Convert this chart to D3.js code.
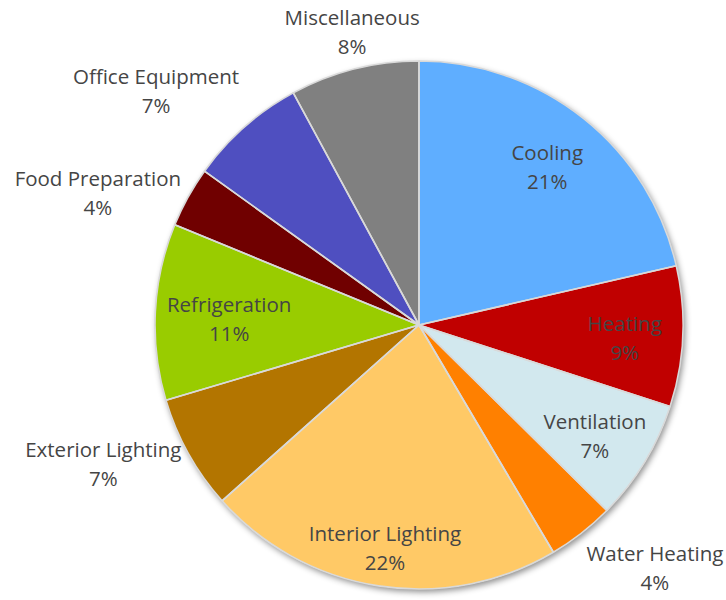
<!DOCTYPE html>
<html lang="en">
<head>
  <meta charset="UTF-8">
  <title>Energy use pie</title>
  <script src="https://d3js.org/d3.v7.min.js"></script>
  <style>
    body { margin: 0; background: #fff; }
    .lbl { font-family: "Open Sans", "Noto Sans", sans-serif; font-size: 20.5px; fill: #454545; }
  </style>
</head>
<body>
<div class="main"></div>
<script>
  let width = 726;
  let height = 600;

  let categories = ["Cooling", "Heating", "Ventilation", "Water Heating", "Interior Lighting",
    "Exterior Lighting", "Refrigeration", "Food Preparation", "Office Equipment", "Miscellaneous"];
  // shares in % (labels show them rounded)
  let values = [21.4, 8.6, 7.4, 4.1, 21.9, 7.0, 10.8, 3.7, 7.2, 7.9];
  let colors = ["#5EAEFF", "#C00000", "#D2E8EE", "#FF8000", "#FFC966",
    "#B37400", "#99CC00", "#700000", "#4F50C0", "#808080"];
  // labels Excel put outside the pie
  let outside = ["Water Heating", "Exterior Lighting", "Food Preparation", "Office Equipment", "Miscellaneous"];

  let cx = 419, cy = 325, radius = 264;

  let pieData = categories.map((c, i) => ({ name: c, value: values[i], color: colors[i] }));

  let pie = d3.pie().sort(null).value(d => d.value);
  let arc = d3.arc().innerRadius(0).outerRadius(radius);

  let svg = d3.select(".main")
          .append("svg")
          .attr("width", width)
          .attr("height", height)
          .style("display", "block");

  let defs = svg.append("defs");
  let f = defs.append("filter").attr("id", "shadow")
          .attr("x", "-10%").attr("y", "-10%").attr("width", "120%").attr("height", "120%");
  f.append("feDropShadow").attr("dx", 2).attr("dy", 3).attr("stdDeviation", 3)
          .attr("flood-color", "#000").attr("flood-opacity", 0.45);

  let g = svg.append("g").attr("transform", `translate(${cx},${cy})`);

  let arcs = pie(pieData);

  g.append("g").attr("filter", "url(#shadow)")
          .selectAll("path")
          .data(arcs)
          .join("path")
          .attr("d", arc)
          .attr("fill", d => d.data.color);

  g.append("g")
          .selectAll("path")
          .data(arcs)
          .join("path")
          .attr("d", arc)
          .attr("fill", "none")
          .attr("stroke", "#D9D9D9")
          .attr("stroke-width", 1.6)
          .attr("stroke-linejoin", "round");

  let lineH = 29;

  function clampDead(v, dead, full) {
    let a = Math.abs(v);
    if (a < dead) return 0;
    return Math.sign(v) * Math.min(1, (a - dead) / (full - dead));
  }

  // how far in the inside labels sit (fraction of radius)
  function insideR(name) {
    if (name === "Interior Lighting") return 0.84;
    if (name === "Refrigeration") return 0.72;
    return 0.78;
  }

  arcs.forEach(d => {
    let mid = (d.startAngle + d.endAngle) / 2;
    let s = Math.sin(mid), c = -Math.cos(mid);
    let isOut = outside.includes(d.data.name);
    let t = g.append("text").attr("class", "lbl").attr("text-anchor", "middle");
    let t1 = t.append("tspan").text(d.data.name);
    let t2 = t.append("tspan").text(Math.round(d.value) + "%");
    let w = Math.max(t1.node().getComputedTextLength(), t2.node().getComputedTextLength());
    let h = lineH * 2;
    let x, y;
    if (!isOut) {
      let r = radius * insideR(d.data.name);
      x = r * s;
      y = r * c + 4;
    } else {
      let r = radius + 8;
      let ax = r * s, ay = r * c;
      x = ax + (w / 2) * clampDead(s, 0.3, 0.6);
      y = ay + (h / 2) * (c > 0 ? clampDead(c, 0.4, 0.75) : clampDead(c, 0.55, 0.75));
    }
    t1.attr("x", x).attr("y", y - lineH / 2 + 7);
    t2.attr("x", x).attr("y", y + lineH / 2 + 7);
  });
</script>
</body>
</html>
